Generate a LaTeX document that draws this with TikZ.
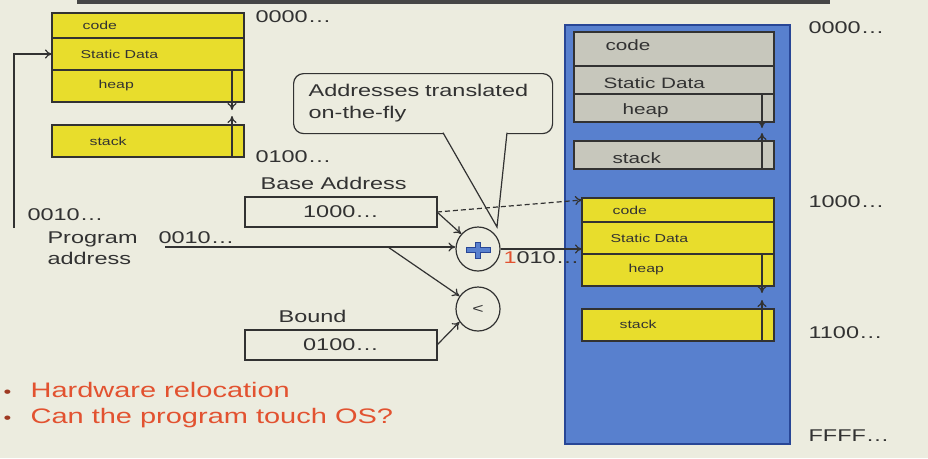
\documentclass[tikz,border=0pt]{standalone}
\usepackage{fontspec}
\setmainfont[FakeStretch=1.38]{Liberation Sans}
\usetikzlibrary{positioning,arrows.meta}
\definecolor{slidebg}{RGB}{236,236,223}
\definecolor{memyellow}{RGB}{232,221,44}
\definecolor{memgray}{RGB}{199,199,188}
\definecolor{memblue}{RGB}{88,128,206}
\definecolor{edgeblue}{RGB}{40,70,150}
\definecolor{hint}{RGB}{226,82,48}
\definecolor{ink}{RGB}{50,50,50}
\begin{document}
\begin{tikzpicture}[x=1pt, y=-1pt, line width=1.2pt, text=ink,
  >={To[length=7pt,width=9pt]},
  seg/.style={draw=ink, outer sep=0pt, inner sep=0pt, anchor=north west},
  yseg/.style={seg, fill=memyellow, minimum width=192pt},
  gseg/.style={seg, fill=memgray, minimum width=200pt},
  tag/.style={anchor=west, inner sep=0pt, font=\fontsize{11.5}{12}\selectfont},
  gtag/.style={tag, font=\fontsize{15}{16}\selectfont},
  addr/.style={anchor=west, inner sep=0pt, font=\fontsize{17}{21}\selectfont},
  regbox/.style={draw=ink, minimum width=192pt, minimum height=30pt, anchor=north west,
    inner sep=0pt, outer sep=0pt, font=\fontsize{17}{18}\selectfont},
  op/.style={circle, draw=ink, minimum size=44pt, inner sep=0pt},
  link/.style={->, draw=ink},
  bullet/.style={anchor=west, inner sep=0pt, text=hint, font=\fontsize{21}{24}\selectfont},
  dot/.style={anchor=base west, inner sep=0pt, text=hint!70!black, font=\fontsize{16}{16}\selectfont}]

  \useasboundingbox (0,0) rectangle (928,458);
  \fill[slidebg] (0,0) rectangle (928,458);
  \fill[gray!55!black] (77,0) rectangle (830,4);

  % program image
  \node[yseg, minimum height=25pt] (lcode) at (52,13) {};
  \node[yseg, minimum height=32pt, below=0pt of lcode] (lstatic) {};
  \node[yseg, minimum height=32pt, below=0pt of lstatic] (lheap) {};
  \node[yseg, minimum height=32pt] (lstack) at (52,125) {};
  \node[tag] at ([xshift=30pt]lcode.west) {code};
  \node[tag] at ([xshift=28pt]lstatic.west) {Static Data};
  \node[tag] at ([xshift=46pt]lheap.west) {heap};
  \node[tag] at ([xshift=37pt]lstack.west) {stack};
  \draw[link] ([xshift=-12pt]lheap.north east) -- ++(0,40);
  \draw[link] ([xshift=-12pt]lstack.south east) -- ++(0,-41);
  \node[addr] (ltop) at (255,17) {0000…};
  \node[addr] (lend) at (255,157) {0100…};

  % physical memory
  \node[draw=edgeblue, fill=memblue, minimum width=225pt, minimum height=419pt,
    anchor=north west, inner sep=0pt, outer sep=0pt] (ram) at (565,25) {};
  \node[gseg, minimum height=34pt] (gcode) at (574,32) {};
  \node[gseg, minimum height=28pt, below=0pt of gcode] (gstatic) {};
  \node[gseg, minimum height=28pt, below=0pt of gstatic] (gheap) {};
  \node[gseg, minimum height=28pt] (gstack) at (574,141) {};
  \node[gtag] at ([xshift=31pt,yshift=4pt]gcode.west) {code};
  \node[gtag] at ([xshift=29pt,yshift=-3pt]gstatic.west) {Static Data};
  \node[gtag] at ([xshift=48pt,yshift=-3pt]gheap.west) {heap};
  \node[gtag] at ([xshift=38pt,yshift=-3pt]gstack.west) {stack};
  \draw[link] ([xshift=-12pt]gheap.north east) -- ++(0,34);
  \draw[link] ([xshift=-12pt]gstack.south east) -- ++(0,-36);

  \node[yseg, minimum height=24pt] (ycode) at (582,198) {};
  \node[yseg, minimum height=32pt, below=0pt of ycode] (ystatic) {};
  \node[yseg, minimum height=32pt, below=0pt of ystatic] (yheap) {};
  \node[yseg, minimum height=32pt] (ystack) at (582,309) {};
  \node[tag] at ([xshift=30pt]ycode.west) {code};
  \node[tag] at ([xshift=28pt]ystatic.west) {Static Data};
  \node[tag] at ([xshift=46pt]yheap.west) {heap};
  \node[tag] at ([xshift=37pt,yshift=1pt]ystack.west) {stack};
  \draw[link] ([xshift=-12pt]yheap.north east) -- ++(0,39);
  \draw[link] ([xshift=-12pt]ystack.south east) -- ++(0,-41);

  \node[addr] (r0) at (808,28) {0000…};
  \node[addr] (r1) at (808,202) {1000…};
  \node[addr] (r2) at (808,333) {1100…};
  \node[addr] (r3) at (808,436) {FFFF…};

  % relocation hardware
  \node[addr] (baselbl) at (260,183) {Base Address};
  \node[regbox] (base) at (245,197) {1000…\hspace{28pt}};
  \node[addr] (boundlbl) at (278,316) {Bound};
  \node[regbox] (bound) at (245,330) {0100…};
  \node[op] (plus) at (478,249) {};
  \node[op, font=\fontsize{14}{14}\selectfont] (less) at (478,309) {<};
  \filldraw[fill=memblue, draw=edgeblue, line width=0.6pt]
    ([shift={(-12,-1.5)}]plus.center) -- ++(9.5,0) -- ++(0,-5.5) -- ++(5,0) -- ++(0,5.5)
    -- ++(9.5,0) -- ++(0,5) -- ++(-9.5,0) -- ++(0,5.5) -- ++(-5,0) -- ++(0,-5.5)
    -- ++(-9.5,0) -- cycle;

  \node[draw=ink, fill=slidebg, rounded corners=10pt, minimum width=259pt, minimum height=60pt,
    anchor=north west, inner xsep=15pt, inner ysep=0pt, text width=229pt, align=left,
    font=\fontsize{17}{22}\selectfont] (note) at (293,73) {Addresses translated\\on-the-fly};
  \coordinate (tip) at (497,227);
  \filldraw[draw=ink, fill=slidebg] ([xshift=150pt,yshift=1.5pt]note.south west) -- (tip)
    -- ([xshift=214pt,yshift=1.5pt]note.south west);

  \node[addr] (pa0) at (27,215) {0010…};
  \node[addr, align=left] (palbl) at (47,248) {Program\\address};
  \node[addr] (pa1) at (158,238) {0010…};
  \node[addr] (pa2) at (503,258) {\textcolor{hint}{1}010…};
  \coordinate (entry) at (14,228);
  \coordinate (pa) at (165,247);
  \coordinate (fork) at (388,247);
  \draw[link] (entry) |- (lstatic.west);
  \draw[link] (pa) -- (pa -| plus.west);
  \draw[link] (fork) -- (less.145);
  \draw[link] (base.east) -- (plus.138);
  \draw[link] (bound.east) -- (less.215);
  \draw[link, dash pattern=on 5pt off 3pt] (base.east) -- ([yshift=-2pt]ycode.north west);
  \draw[link] (plus.east) -- (plus.east -| ystatic.west);

  \node[bullet] (b1) at (30,390) {Hardware relocation};
  \node[bullet] (b2) at (30,418) {Can the program touch OS?};
  \node[dot] at ([xshift=-27pt]b1.base west) {•};
  \node[dot] at ([xshift=-27pt]b2.base west) {•};
\end{tikzpicture}
\end{document}
